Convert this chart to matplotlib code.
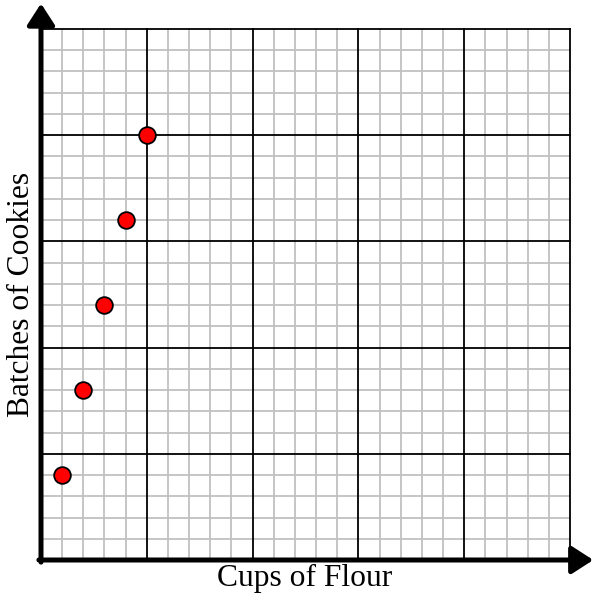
import matplotlib.pyplot as plt

# 数据
cups = [1, 2, 3, 4, 5]
batches = [4, 8, 12, 16, 20]
grid_max = 25

plt.rcParams['font.family'] = ['Liberation Serif', 'DejaVu Serif']

fig = plt.figure(figsize=(5.93, 5.98), dpi=100)
W, H = 593, 598
ax = fig.add_axes([41 / W, (H - 560) / H, (570 - 41) / W, (560 - 29) / H])
ax.set_xlim(0, grid_max)
ax.set_ylim(0, grid_max)

# 网格线：细线灰色，每5格黑色
for v in range(1, grid_max + 1):
    major = v % 5 == 0
    c = 'black' if major else '#c0c0c0'
    z = 2 if major else 1
    ax.axvline(v, color=c, lw=1.3, zorder=z, clip_on=False)
    ax.axhline(v, color=c, lw=1.3, zorder=z, clip_on=False)

for s in ax.spines.values():
    s.set_visible(False)
ax.set_xticks([])
ax.set_yticks([])

# 坐标轴箭头
arrow = dict(arrowstyle='-|>,head_length=0.65,head_width=0.42',
             lw=3.6, color='black', mutation_scale=20,
             shrinkA=0, shrinkB=0)
ax.annotate('', xy=(26.1, 0), xytext=(-0.1, 0), arrowprops=arrow,
            annotation_clip=False, zorder=5)
ax.annotate('', xy=(0, 26.2), xytext=(0, -0.1), arrowprops=arrow,
            annotation_clip=False, zorder=5)

# 数据点
ax.plot(cups, batches, 'o', color='red', markeredgecolor='black',
        markeredgewidth=1.3, markersize=12, zorder=6, clip_on=False)

fig.text(305 / W, 1 - 578 / H, 'Cups of Flour', fontsize=22.7,
         ha='center', va='center')
fig.text(22 / W, 1 - 294 / H, 'Batches of Cookies', fontsize=22.7,
         ha='center', va='center', rotation=90)

fig.savefig('out.png', dpi=100)
